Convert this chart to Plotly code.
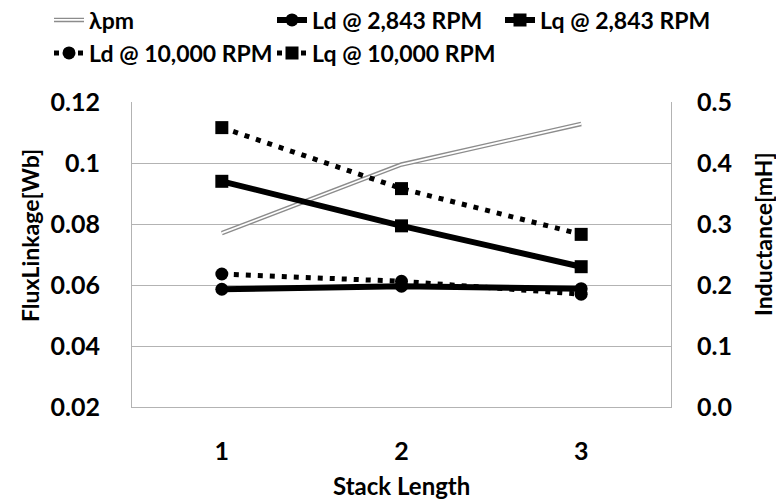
import plotly.graph_objects as go

# Stack length categories
stack_length = [1, 2, 3]
x_ticktext = ["1", "2", "3"]

# Permanent-magnet flux linkage [Wb] (left axis)
lambda_pm = [0.0770, 0.0995, 0.1128]

# d/q inductances [mH] (right axis)
ld_2843 = [0.193, 0.198, 0.194]
lq_2843 = [0.370, 0.297, 0.230]
ld_10000 = [0.218, 0.206, 0.185]
lq_10000 = [0.458, 0.358, 0.283]

FONT = "Lato"
W, H = 776, 503
GRID = "#b3b3b3"


def cx(px):
    return px / W


def cy(py):
    return 1 - py / H


def bold(s):
    return f"<b>{s}</b>"


fig = go.Figure()

# flux linkage: grey outline with white core gives a double line
fig.add_trace(go.Scatter(
    x=stack_length, y=lambda_pm, name=bold("λpm"), mode="lines",
    line=dict(color="#8c8c8c", width=4.5), yaxis="y", legend="legend",
))
fig.add_trace(go.Scatter(
    x=stack_length, y=lambda_pm, name=bold("λpm"), mode="lines",
    line=dict(color="white", width=1.8), yaxis="y", legend="legend6",
))

fig.add_trace(go.Scatter(
    x=stack_length, y=ld_2843, name=bold("Ld @ 2,843 RPM"), mode="lines+markers",
    line=dict(color="black", width=6),
    marker=dict(symbol="circle", size=13, color="black"),
    yaxis="y2", legend="legend2",
))
fig.add_trace(go.Scatter(
    x=stack_length, y=lq_2843, name=bold("Lq @ 2,843 RPM"), mode="lines+markers",
    line=dict(color="black", width=6),
    marker=dict(symbol="square", size=13, color="black"),
    yaxis="y2", legend="legend3",
))
fig.add_trace(go.Scatter(
    x=stack_length, y=ld_10000, name=bold("Ld @ 10,000 RPM"), mode="lines+markers",
    line=dict(color="black", width=5, dash="5px,7px"),
    marker=dict(symbol="circle", size=13, color="black"),
    yaxis="y2", legend="legend4",
))
fig.add_trace(go.Scatter(
    x=stack_length, y=lq_10000, name=bold("Lq @ 10,000 RPM"), mode="lines+markers",
    line=dict(color="black", width=5, dash="5px,7px"),
    marker=dict(symbol="square", size=13, color="black"),
    yaxis="y2", legend="legend5",
))

legend_font = dict(family=FONT, size=23, color="black")


def legend_at(text_left, row_y, font=legend_font):
    return dict(
        xref="container", yref="container",
        x=cx(text_left - 40), y=cy(row_y),
        xanchor="left", yanchor="middle",
        bgcolor="rgba(0,0,0,0)", borderwidth=0,
        font=font, orientation="h",
    )


tick_font = dict(family=FONT, size=25, color="black", weight="bold")
title_font = dict(family=FONT, size=23, color="black")

fig.update_layout(
    width=W, height=H,
    margin=dict(l=132, r=105, t=102, b=96),
    paper_bgcolor="white", plot_bgcolor="white",
    font=dict(family=FONT, color="black"),
    showlegend=True,
    legend=legend_at(89, 20),
    legend6=legend_at(89, 20, dict(legend_font, color="rgba(0,0,0,0)")),
    legend2=legend_at(312, 20),
    legend3=legend_at(540, 20),
    legend4=legend_at(89, 53),
    legend5=legend_at(312, 53),
    xaxis=dict(
        range=[0.5, 3.5], tickvals=stack_length, ticktext=x_ticktext,
        showgrid=False, showline=True, linecolor=GRID, linewidth=1,
        ticks="", tickfont=tick_font, ticklabelstandoff=22,
        zeroline=False, automargin=False,
    ),
    yaxis=dict(
        range=[0.02, 0.12], dtick=0.02, tick0=0.02,
        showgrid=True, gridcolor=GRID, gridwidth=1,
        showline=True, linecolor=GRID, linewidth=1,
        ticks="", tickfont=tick_font, ticklabelstandoff=26,
        zeroline=False, automargin=False,
    ),
    yaxis2=dict(
        range=[0, 0.5], dtick=0.1, tickformat=".1f",
        overlaying="y", side="right",
        showgrid=False, showline=True, linecolor=GRID, linewidth=1,
        ticks="", tickfont=tick_font, ticklabelstandoff=20,
        zeroline=False, automargin=False,
    ),
    annotations=[
        dict(text=bold("FluxLinkage[Wb]"), xref="paper", yref="paper",
             x=cx(30), y=cy(236), xanchor="center", yanchor="middle",
             textangle=-90, showarrow=False, font=title_font),
        dict(text=bold("Inductance[mH]"), xref="paper", yref="paper",
             x=cx(763), y=cy(234), xanchor="center", yanchor="middle",
             textangle=-90, showarrow=False, font=title_font),
        dict(text=bold("Stack Length"), xref="paper", yref="paper",
             x=cx(401), y=cy(485), xanchor="center", yanchor="middle",
             showarrow=False, font=dict(title_font, size=24)),
    ],
)

# annotation positions above are given in container pixels; convert to paper
plot_l, plot_r, plot_t, plot_b = 132, W - 105, 102, H - 96
for ann in fig.layout.annotations:
    px = ann.x * W
    py = (1 - ann.y) * H
    ann.x = (px - plot_l) / (plot_r - plot_l)
    ann.y = (plot_b - py) / (plot_b - plot_t)

fig.write_html("out.html")
